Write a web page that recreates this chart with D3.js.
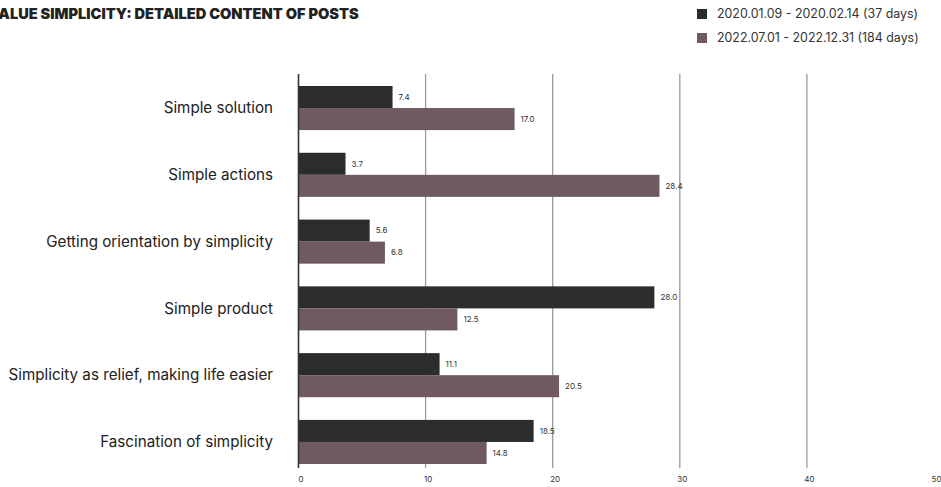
<!DOCTYPE html>
<html>
<head>
<meta charset="utf-8">
<script src="https://cdn.jsdelivr.net/npm/d3@7"></script>
<style>
  html, body { margin: 0; padding: 0; background: #fff; }
  svg { display: block; }
  text { font-family: "Inter", "Noto Sans", sans-serif; }
</style>
</head>
<body>
<svg id="chart" width="941" height="487"></svg>
<script>
// Categories, top to bottom
const categories = [
  "Simple solution",
  "Simple actions",
  "Getting orientation by simplicity",
  "Simple product",
  "Simplicity as relief, making life easier",
  "Fascination of simplicity"
];
// Period names shown in the legend
const seriesNames = [
  "2020.01.09 - 2020.02.14 (37 days)",
  "2022.07.01 - 2022.12.31 (184 days)"
];
// Share of posts per category, one array per period
const period2020 = [7.4, 3.7, 5.6, 28.0, 11.1, 18.5];
const period2022 = [17.0, 28.4, 6.8, 12.5, 20.5, 14.8];
const xTicks = [0, 10, 20, 30, 40, 50];

const colors = ["#2b2d2d", "#6e5a60"];
const seriesValues = [period2020, period2022];

const svg = d3.select("#chart");

const x = d3.scaleLinear().domain([0, 50]).range([298.5, 934]);
const y = d3.scaleBand().domain(categories).range([86, 464]).paddingInner(0.34).paddingOuter(0);
const sub = d3.scaleBand().domain([0, 1]).range([0, y.bandwidth()]);

// Title (runs off the left edge)
svg.append("text")
  .attr("x", -12).attr("y", 19)
  .attr("font-family", "Lato, sans-serif")
  .attr("font-weight", 900)
  .attr("font-size", 14.6)
  .attr("fill", "#222")
  .text("VALUE SIMPLICITY: DETAILED CONTENT OF POSTS");

// Legend
const legend = svg.append("g");
seriesNames.forEach((name, i) => {
  const g = legend.append("g").attr("transform", `translate(697, ${9 + i * 24})`);
  g.append("rect").attr("width", 10).attr("height", 10).attr("fill", colors[i]);
  g.append("text").attr("x", 20).attr("y", 5).attr("dy", "0.35em")
    .attr("font-size", 12.4).attr("fill", "#333").text(name);
});

// Vertical gridlines
const gridTop = 74, gridBottom = 468;
svg.append("g").selectAll("line")
  .data(xTicks.slice(1, 5))
  .join("line")
  .attr("x1", d => x(d)).attr("x2", d => x(d))
  .attr("y1", gridTop).attr("y2", gridBottom)
  .attr("stroke", "#9a9a9a").attr("stroke-width", 1.3);

// Tick labels
svg.append("g").selectAll("text")
  .data(xTicks)
  .join("text")
  .attr("x", d => x(d) + 2.5).attr("y", 482)
  .attr("text-anchor", "middle")
  .attr("font-size", 8).attr("fill", "#333")
  .text(d => d);

// Bars
const groups = svg.append("g").selectAll("g")
  .data(categories)
  .join("g")
  .attr("transform", d => `translate(0, ${y(d)})`);

seriesValues.forEach((vals, s) => {
  groups.append("rect")
    .attr("x", x(0))
    .attr("y", sub(s))
    .attr("width", (d, i) => x(vals[i]) - x(0))
    .attr("height", sub.bandwidth())
    .attr("fill", colors[s]);
  groups.append("text")
    .attr("x", (d, i) => x(vals[i]) + 6)
    .attr("y", sub(s) + sub.bandwidth() / 2)
    .attr("dy", "0.35em")
    .attr("font-size", 8).attr("fill", "#333")
    .text((d, i) => vals[i].toFixed(1));
});

// Category labels
groups.append("text")
  .attr("x", 273)
  .attr("y", y.bandwidth() / 2)
  .attr("dy", "0.35em")
  .attr("text-anchor", "end")
  .attr("font-size", 15.2)
  .attr("fill", "#222")
  .text(d => d);

// Zero axis line
svg.append("line")
  .attr("x1", x(0)).attr("x2", x(0))
  .attr("y1", gridTop).attr("y2", gridBottom)
  .attr("stroke", "#333").attr("stroke-width", 1.6);
</script>
</body>
</html>
